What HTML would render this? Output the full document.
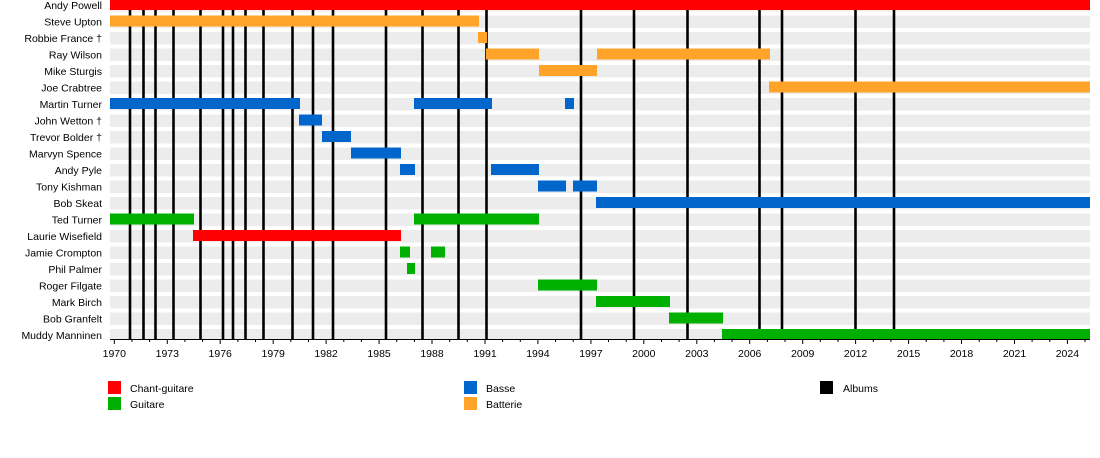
<!DOCTYPE html>
<html><head><meta charset="utf-8"><style>
body{margin:0;background:#fff}
svg{display:block;font-family:"Liberation Sans",sans-serif;font-size:10.5px}
</style></head><body>
<svg width="1100" height="458" viewBox="0 0 1100 458">
<g fill="#ececec">
<rect x="110" y="-1" width="980" height="12.5"/><rect x="110" y="15.5" width="980" height="12.5"/><rect x="110" y="32" width="980" height="12.5"/><rect x="110" y="48.5" width="980" height="12.5"/><rect x="110" y="65" width="980" height="12.5"/><rect x="110" y="81.5" width="980" height="12.5"/><rect x="110" y="98" width="980" height="12.5"/><rect x="110" y="114.5" width="980" height="12.5"/><rect x="110" y="131" width="980" height="12.5"/><rect x="110" y="147.5" width="980" height="12.5"/><rect x="110" y="164" width="980" height="12.5"/><rect x="110" y="180.5" width="980" height="12.5"/><rect x="110" y="197" width="980" height="12.5"/><rect x="110" y="213.5" width="980" height="12.5"/><rect x="110" y="230" width="980" height="12.5"/><rect x="110" y="246.5" width="980" height="12.5"/><rect x="110" y="263" width="980" height="12.5"/><rect x="110" y="279.5" width="980" height="12.5"/><rect x="110" y="296" width="980" height="12.5"/><rect x="110" y="312.5" width="980" height="12.5"/><rect x="110" y="329" width="980" height="10"/>
</g>
<g stroke="#000" stroke-width="2.6">
<line x1="130" y1="0" x2="130" y2="339"/><line x1="143.5" y1="0" x2="143.5" y2="339"/><line x1="155.5" y1="0" x2="155.5" y2="339"/><line x1="173.5" y1="0" x2="173.5" y2="339"/><line x1="200.5" y1="0" x2="200.5" y2="339"/><line x1="223" y1="0" x2="223" y2="339"/><line x1="233" y1="0" x2="233" y2="339"/><line x1="245.5" y1="0" x2="245.5" y2="339"/><line x1="263.5" y1="0" x2="263.5" y2="339"/><line x1="292.5" y1="0" x2="292.5" y2="339"/><line x1="313" y1="0" x2="313" y2="339"/><line x1="333" y1="0" x2="333" y2="339"/><line x1="386" y1="0" x2="386" y2="339"/><line x1="422.5" y1="0" x2="422.5" y2="339"/><line x1="458.5" y1="0" x2="458.5" y2="339"/><line x1="486.5" y1="0" x2="486.5" y2="339"/><line x1="581" y1="0" x2="581" y2="339"/><line x1="634" y1="0" x2="634" y2="339"/><line x1="687.5" y1="0" x2="687.5" y2="339"/><line x1="759.5" y1="0" x2="759.5" y2="339"/><line x1="782" y1="0" x2="782" y2="339"/><line x1="855.5" y1="0" x2="855.5" y2="339"/><line x1="894" y1="0" x2="894" y2="339"/>
</g>
<g>
<rect x="110" y="-1" width="980" height="11" fill="#ff0000"/>
<rect x="110" y="15.5" width="369" height="11" fill="#ffa329"/>
<rect x="478" y="32" width="9" height="11" fill="#ffa329"/>
<rect x="486" y="48.5" width="53" height="11" fill="#ffa329"/>
<rect x="597" y="48.5" width="173" height="11" fill="#ffa329"/>
<rect x="539" y="65" width="58" height="11" fill="#ffa329"/>
<rect x="769" y="81.5" width="321" height="11" fill="#ffa329"/>
<rect x="110" y="98" width="190" height="11" fill="#0066cc"/>
<rect x="414" y="98" width="78" height="11" fill="#0066cc"/>
<rect x="565" y="98" width="9" height="11" fill="#0066cc"/>
<rect x="299" y="114.5" width="23" height="11" fill="#0066cc"/>
<rect x="322" y="131" width="29" height="11" fill="#0066cc"/>
<rect x="351" y="147.5" width="50" height="11" fill="#0066cc"/>
<rect x="400" y="164" width="15" height="11" fill="#0066cc"/>
<rect x="491" y="164" width="48" height="11" fill="#0066cc"/>
<rect x="538" y="180.5" width="28" height="11" fill="#0066cc"/>
<rect x="573" y="180.5" width="24" height="11" fill="#0066cc"/>
<rect x="596" y="197" width="494" height="11" fill="#0066cc"/>
<rect x="110" y="213.5" width="84" height="11" fill="#00b000"/>
<rect x="414" y="213.5" width="125" height="11" fill="#00b000"/>
<rect x="193" y="230" width="208" height="11" fill="#ff0000"/>
<rect x="400" y="246.5" width="10" height="11" fill="#00b000"/>
<rect x="431" y="246.5" width="14" height="11" fill="#00b000"/>
<rect x="407" y="263" width="8" height="11" fill="#00b000"/>
<rect x="538" y="279.5" width="59" height="11" fill="#00b000"/>
<rect x="596" y="296" width="74" height="11" fill="#00b000"/>
<rect x="669" y="312.5" width="54" height="11" fill="#00b000"/>
<rect x="722" y="329" width="368" height="10" fill="#00b000"/>
</g>
<g text-anchor="end" fill="#000">
<text x="102" y="9">Andy Powell</text><text x="102" y="25.5">Steve Upton</text><text x="102" y="42">Robbie France †</text><text x="102" y="58.5">Ray Wilson</text><text x="102" y="75">Mike Sturgis</text><text x="102" y="91.5">Joe Crabtree</text><text x="102" y="108">Martin Turner</text><text x="102" y="124.5">John Wetton †</text><text x="102" y="141">Trevor Bolder †</text><text x="102" y="157.5">Marvyn Spence</text><text x="102" y="174">Andy Pyle</text><text x="102" y="190.5">Tony Kishman</text><text x="102" y="207">Bob Skeat</text><text x="102" y="223.5">Ted Turner</text><text x="102" y="240">Laurie Wisefield</text><text x="102" y="256.5">Jamie Crompton</text><text x="102" y="273">Phil Palmer</text><text x="102" y="289.5">Roger Filgate</text><text x="102" y="306">Mark Birch</text><text x="102" y="322.5">Bob Granfelt</text><text x="102" y="339">Muddy Manninen</text>
</g>
<line x1="110" y1="339.5" x2="1090" y2="339.5" stroke="#000" stroke-width="1"/>
<g stroke="#000" stroke-width="1">
<path d="M114.3 339v5M131.9 339v3M149.6 339v3M167.3 339v5M184.9 339v3M202.6 339v3M220.2 339v5M237.9 339v3M255.5 339v3M273.2 339v5M290.8 339v3M308.5 339v3M326.1 339v5M343.8 339v3M361.4 339v3M379.1 339v5M396.7 339v3M414.4 339v3M432 339v5M449.7 339v3M467.3 339v3M485 339v5M502.6 339v3M520.3 339v3M537.9 339v5M555.6 339v3M573.2 339v3M590.9 339v5M608.5 339v3M626.2 339v3M643.8 339v5M661.5 339v3M679.1 339v3M696.8 339v5M714.4 339v3M732.1 339v3M749.7 339v5M767.4 339v3M785 339v3M802.7 339v5M820.3 339v3M838 339v3M855.6 339v5M873.3 339v3M890.9 339v3M908.6 339v5M926.2 339v3M943.9 339v3M961.5 339v5M979.2 339v3M996.8 339v3M1014.5 339v5M1032.1 339v3M1049.8 339v3M1067.4 339v5M1085 339v3"/>
</g>
<g text-anchor="middle">
<text x="114.3" y="357">1970</text><text x="167.3" y="357">1973</text><text x="220.2" y="357">1976</text><text x="273.2" y="357">1979</text><text x="326.1" y="357">1982</text><text x="379.1" y="357">1985</text><text x="432" y="357">1988</text><text x="485" y="357">1991</text><text x="537.9" y="357">1994</text><text x="590.9" y="357">1997</text><text x="643.8" y="357">2000</text><text x="696.8" y="357">2003</text><text x="749.7" y="357">2006</text><text x="802.7" y="357">2009</text><text x="855.6" y="357">2012</text><text x="908.6" y="357">2015</text><text x="961.5" y="357">2018</text><text x="1014.5" y="357">2021</text><text x="1067.4" y="357">2024</text>
</g>
<rect x="108" y="381" width="13" height="13" fill="#ff0000"/><text x="130" y="392">Chant-guitare</text>
<rect x="108" y="397" width="13" height="13" fill="#00b000"/><text x="130" y="408">Guitare</text>
<rect x="464" y="381" width="13" height="13" fill="#0066cc"/><text x="486" y="392">Basse</text>
<rect x="464" y="397" width="13" height="13" fill="#ffa329"/><text x="486" y="408">Batterie</text>
<rect x="820" y="381" width="13" height="13" fill="#000"/><text x="843" y="392">Albums</text>
</svg>
</body></html>
